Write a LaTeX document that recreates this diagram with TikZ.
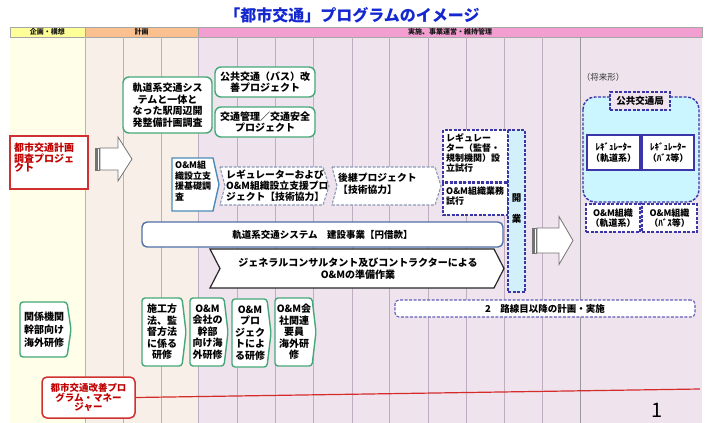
\documentclass[tikz,border=0pt]{standalone}
\usepackage{fontspec}
\setmainfont{Noto Sans CJK JP}
\definecolor{hdY}{HTML}{FFFF99}
\definecolor{hdO}{HTML}{FAC08F}
\definecolor{hdP}{HTML}{F29ED0}
\definecolor{bdY}{HTML}{FFFEE8}
\definecolor{bdO}{HTML}{F8F0E8}
\definecolor{bdP}{HTML}{EFE4EE}
\definecolor{vln}{HTML}{C0AEC0}
\definecolor{grn}{HTML}{45A878}
\definecolor{redb}{HTML}{D03030}
\definecolor{redt}{HTML}{C00000}
\definecolor{stl}{HTML}{4A8CB8}
\definecolor{dgb}{HTML}{8C98B4}
\definecolor{dpb}{HTML}{3A36A8}
\definecolor{navy}{HTML}{5070A8}
\definecolor{cyn}{HTML}{CCF6FF}
\definecolor{cyb}{HTML}{D2F0FA}
\definecolor{ttl}{HTML}{1428D0}
\newcommand\mychev[6]{(#1,#2) -- ({#3-#6},#2) -- (#3,{(#2+#4)/2}) -- ({#3-#6},#4) -- (#1,#4) -- ({#1+#5},{(#2+#4)/2}) -- cycle}
\begin{document}
\begin{tikzpicture}[x=1pt,y=-1pt,
  hdtxt/.style={font=\bfseries\fontsize{7}{7.5}\selectfont, text=black!90, inner sep=0pt},
  vline/.style={draw=vln, line width=0.7pt},
  gbox/.style={draw=grn, line width=1.4pt, fill=white, rounded corners=6pt, inner sep=1pt, align=center, font=\bfseries\fontsize{10}{11.5}\selectfont},
  gchev/.style={draw=grn, line width=1.4pt, fill=white, rounded corners=3pt},
  ttxt/.style={inner sep=0pt, align=center, font=\bfseries\fontsize{10}{11.5}\selectfont},
  dchev/.style={draw=dgb, line width=1.1pt, dash pattern=on 3pt off 1.5pt, fill=white},
  dbox/.style={draw=dpb, line width=1.4pt, dash pattern=on 3pt off 1.5pt},
  lbl/.style={inner sep=0pt, align=left, font=\bfseries\fontsize{9}{10}\selectfont},
  sbox/.style={draw=dpb, line width=1.4pt, fill=white, inner sep=0pt, align=center, font=\bfseries\fontsize{9}{10.5}\selectfont},
  bigarrow/.style={draw=black!55, line width=0.8pt, fill=white},
]
\useasboundingbox (0,0) rectangle (705,423);
\fill[white] (0,0) rectangle (705,423);
% title
\node[font=\bfseries\fontsize{16}{18}\selectfont, text=ttl, inner sep=0pt] (title) at (352,15) {「都市交通」プログラムのイメージ};
% header and body columns
\fill[bdY] (10,37) rectangle (85,423);
\fill[bdO] (85,37) rectangle (198,423);
\fill[bdP] (198,37) rectangle (702,423);
\filldraw[fill=hdY, draw=black!35, line width=0.5pt] (10,27) rectangle (85,37);
\filldraw[fill=hdO, draw=black!35, line width=0.5pt] (85,27) rectangle (198,37);
\filldraw[fill=hdP, draw=black!35, line width=0.5pt] (198,27) rectangle (702,37);
\node[hdtxt] (h1) at (47.5,32) {企画・構想};
\node[hdtxt] (h2) at (141.5,32) {計画};
\node[hdtxt] (h3) at (450,32) {実施、事業運営・維持管理};
\foreach \xx in {85,123,161,198,237,275,313,352,389,428,466,504,542,580}
  \draw[vline] (\xx,37) -- (\xx,423);
\draw[draw=black!40, line width=0.7pt] (580,37) -- (580,423);
% red study box
\node[draw=redb, line width=1.2pt, fill=white, minimum width=78pt, minimum height=53pt, inner sep=0pt] (rstudy) at (49,162.5) {};
\node[anchor=north west, inner sep=0pt, align=left, text=redt, font=\bfseries\fontsize{10}{9.5}\selectfont] (rstudyt) at (14,143) {都市交通計画\\調査プロジェ\\クト};
% arrow 1
\filldraw[bigarrow] (95,148) rectangle (96.5,170);
\filldraw[bigarrow] (97.5,148) rectangle (99,170);
\filldraw[bigarrow] (100,148) -- (118,148) -- (118,137) -- (132,159) -- (118,181) -- (118,170) -- (100,170) -- cycle;
% green boxes
\node[gbox, minimum width=89pt, minimum height=56pt] (g1) at (167.5,105) {軌道系交通シス\\テムと一体と\\なった駅周辺開\\発整備計画調査};
\node[gbox, minimum width=100pt, minimum height=30pt] (g2) at (265,82) {公共交通（バス）改\\善プロジェクト};
\node[gbox, minimum width=100pt, minimum height=30pt] (g3) at (265,122) {交通管理／交通安全\\プロジェクト};
% O&M survey chevron
\filldraw[draw=stl, line width=1.4pt, fill=white] \mychev{172}{158}{219}{211}{0}{6};
\node[lbl, anchor=north west, font=\bfseries\fontsize{9}{10.5}\selectfont] (b1) at (175,161) {O\&M組\\織設立支\\援基礎調\\査};
% dashed chevrons
\filldraw[dchev] \mychev{220}{167}{329}{205}{5}{6};
\node[lbl, anchor=west, font=\bfseries\fontsize{9.8}{11}\selectfont] (d1) at (226,186) {レギュレーターおよび\\O\&M組織設立支援プロ\\ジェクト【技術協力】};
\filldraw[dchev] \mychev{332}{167}{441}{205}{5}{6};
\node[lbl, anchor=west, font=\bfseries\fontsize{9.8}{12}\selectfont] (d2) at (338,184) {後継プロジェクト\\【技術協力】};
% regulator trial boxes
\filldraw[dbox, fill=white] (443,130) rectangle (508,182);
\node[lbl, anchor=north west] (r1) at (446,133) {レギュレー\\ター（監督・\\規制機関）設\\立試行};
\filldraw[dbox, fill=white] (443,183) rectangle (508,215);
\node[lbl, anchor=north west] (r2) at (446,187) {O\&M組織業務\\試行};
\filldraw[dbox, fill=cyb] (508,130) rectangle (525,292);
\node[lbl, font=\bfseries\fontsize{9.5}{10}\selectfont] (open1) at (516.5,198) {開};
\node[lbl, font=\bfseries\fontsize{9.5}{10}\selectfont] (open2) at (516.5,219) {業};
% construction
\node[draw=navy, line width=1.4pt, fill=white, rounded corners=5pt, minimum width=361pt, minimum height=25pt, inner sep=0pt, font=\bfseries\fontsize{9.5}{10}\selectfont] (cons) at (322.5,234.5) {軌道系交通システム　建設事業【円借款】};
% general consultant chevron
\filldraw[draw=black!85, line width=1.2pt, fill=white] \mychev{210}{249}{504}{288}{10}{10};
\node[ttxt, font=\bfseries\fontsize{10}{12}\selectfont] (gen) at (358,268.5) {ジェネラルコンサルタント及びコントラクターによる\\O\&Mの準備作業};
% arrow 2
\filldraw[bigarrow] (532,228) rectangle (533.5,253);
\filldraw[bigarrow] (534.5,228) rectangle (536,253);
\filldraw[bigarrow] (537,228) -- (559,228) -- (559,216.5) -- (573,240.5) -- (559,264.5) -- (559,253) -- (537,253) -- cycle;
% second line
\node[draw=dpb!80, line width=1.1pt, dash pattern=on 3pt off 1.5pt, fill=white, rounded corners=4pt, minimum width=300pt, minimum height=17pt, inner sep=0pt, font=\bfseries\fontsize{9.5}{10}\selectfont] (line2) at (545,308.5) {2　路線目以降の計画・実施};
% future form
\node[inner sep=0pt, font=\fontsize{8.5}{9}\selectfont, text=black!80] (future) at (603,77) {（将来形）};
\filldraw[dbox, fill=cyn, rounded corners=12pt] (583,97) rectangle (699,202);
\node[dbox, fill=bdP, minimum width=60pt, minimum height=18pt, inner sep=0pt, font=\bfseries\fontsize{9.5}{10}\selectfont] (ptb) at (640,101) {公共交通局};
\node[sbox, minimum width=53pt, minimum height=35pt] (reg1) at (613.5,152.5) {ﾚｷﾞｭﾚｰﾀｰ\\（軌道系）};
\node[sbox, minimum width=52pt, minimum height=35pt] (reg2) at (668,152.5) {ﾚｷﾞｭﾚｰﾀｰ\\（ﾊﾞｽ等）};
\node[sbox, dash pattern=on 3pt off 1.5pt, minimum width=54pt, minimum height=28pt] (om1) at (613,218) {O\&M組織\\（軌道系）};
\node[sbox, dash pattern=on 3pt off 1.5pt, minimum width=55pt, minimum height=28pt] (om2) at (669.5,218) {O\&M組織\\（ﾊﾞｽ等）};
% training chevrons
\filldraw[gchev] \mychev{20}{302}{71}{357}{0}{4};
\node[ttxt, font=\bfseries\fontsize{10}{13}\selectfont] (t0) at (44,329.5) {関係機関\\幹部向け\\海外研修};
\filldraw[gchev] \mychev{142}{298}{186}{366}{0}{4};
\node[ttxt] (t1) at (162,332) {施工方\\法、監\\督方法\\に係る\\研修};
\filldraw[gchev] \mychev{190}{298}{228}{366}{0}{4};
\node[ttxt] (t2) at (207.5,332) {O\&M\\会社の\\幹部\\向け海\\外研修};
\filldraw[gchev] \mychev{232}{299}{271}{367}{0}{4};
\node[ttxt] (t3) at (250,333) {O\&M\\プロ\\ジェク\\トによ\\る研修};
\filldraw[gchev] \mychev{275}{298}{316}{366}{0}{4};
\node[ttxt] (t4) at (294,332) {O\&M会\\社関連\\要員\\海外研\\修};
% program manager
\node[draw=redb, line width=1.5pt, fill=white, rounded corners=5pt, minimum width=93pt, minimum height=41pt, inner sep=0pt, align=center, text=redt, font=\bfseries\fontsize{9.5}{9.5}\selectfont] (pm) at (88.5,397.5) {都市交通改善プロ\\グラム・マネー\\ジャー};
\coordinate (pmend) at (700,389);
\draw[draw=redb!90!red, line width=1.2pt] (pm.east) -- (pmend);
% page number
\node[inner sep=0pt, font=\fontsize{20}{22}\selectfont] (pnum) at (657,410) {1};
\end{tikzpicture}
\end{document}
